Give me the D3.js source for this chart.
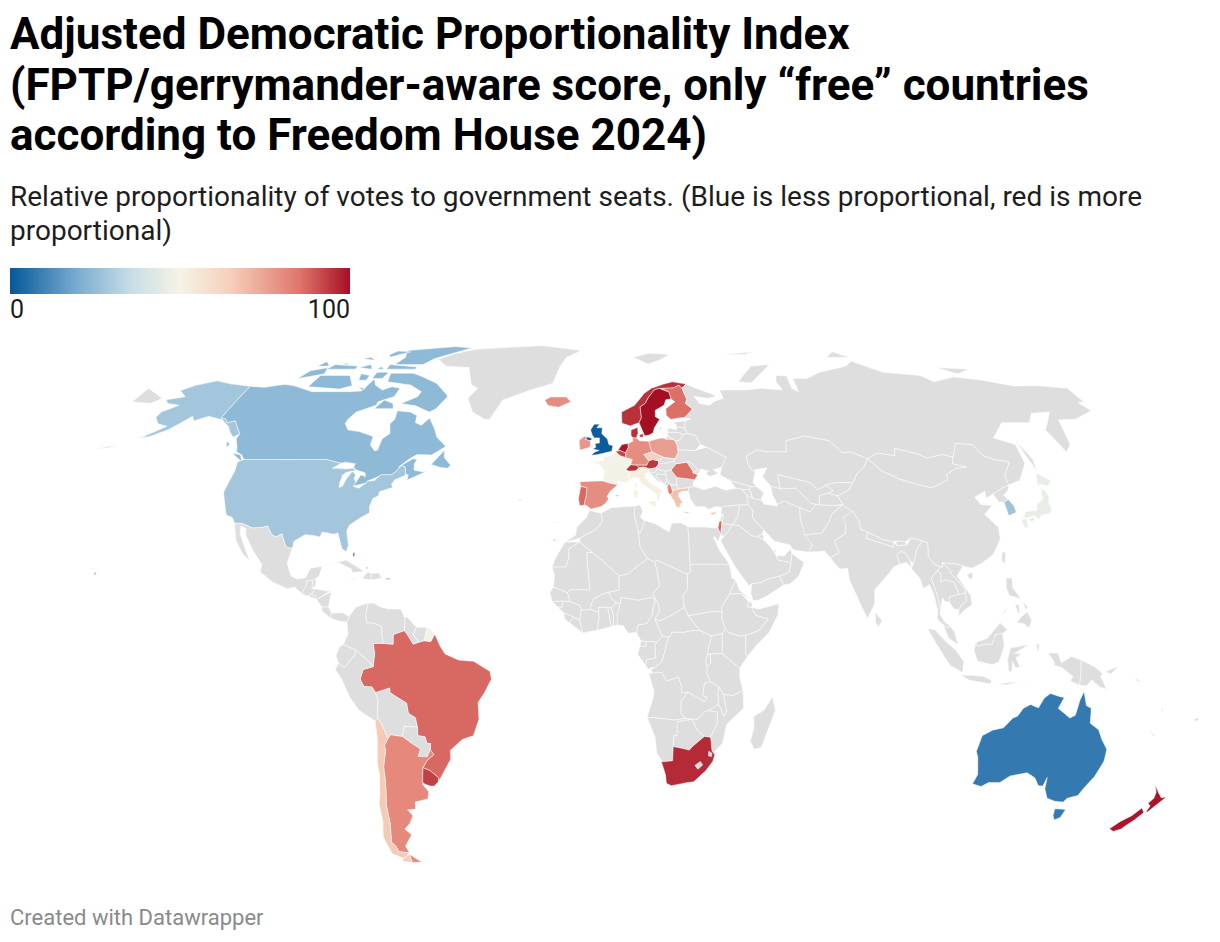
<!DOCTYPE html>
<meta charset="utf-8">
<style>
    body { margin: 0; background: #ffffff; font-family: Roboto, sans-serif; }
    svg { display: block; }
    .country { stroke: #ffffff; stroke-width: .5px; stroke-linejoin: round; }
</style>
<body>
<script src="https://cdnjs.cloudflare.com/ajax/libs/d3/7.8.5/d3.min.js"></script>
<script>

const titleLines = ["Adjusted Democratic Proportionality Index", "(FPTP/gerrymander-aware score, only “free” countries", "according to Freedom House 2024)"];
const subtitleLines = ["Relative proportionality of votes to government seats. (Blue is less proportional, red is more", "proportional)"];
const footer = "Created with Datawrapper";
const legendTicks = [0, 100];

// colour stops of the legend
const scaleStops = [0, 20, 35, 50, 65, 85, 100];
const scaleColors = ["#05589a", "#7badd1", "#c6dce6", "#f5f4e6", "#f6cfba", "#df776c", "#a50f24"];

// scored countries, everything else stays grey
const scoredNames = ["United Kingdom", "Bahamas", "Australia", "Canada", "United States", "South Korea", "Japan", "France", "French Guiana", "Italy", "Ireland", "Spain", "Portugal", "Iceland", "Norway", "Sweden", "Finland", "Denmark", "Netherlands", "Germany", "Poland", "Czechia", "Austria", "Switzerland", "Belgium", "Romania", "Greece", "Albania", "Israel", "Cyprus", "Brazil", "Argentina", "Chile", "Uruguay", "South Africa", "New Zealand", "Luxembourg"];
const scoredValues = [1, 1, 8, 24, 28, 27, 46, 49, 49, 52, 78, 80, 87, 80, 95, 100, 86, 95, 99, 80, 76, 64, 94, 95, 92, 86, 68, 82, 87, 68, 87, 81, 66, 93, 96, 99, 90];

// outlines, lon,lat; a country may have several rings
const northAmerica = [
["Canada", "-141,69.6;-135,69.3;-128,70.2;-124,69.8;-115,68;-108,68;-100,68;-96,68.2;-94,71.9;-92,70;-88,68.5;-85,69.5;-81.5,69;-82,66.5;-87,65;-87,64;-93,62;-94.5,60;-94.7,58.8;-92.5,57;-88,56.5;-82.5,55.2;-82.2,52.9;-80,51.3;-79,51.5;-79,54.5;-77,56;-78.5,58.7;-77.5,60;-78,62.4;-73,62;-70,61;-69.5,59;-67,58.3;-65,60.3;-62,57.5;-60,55;-56,52.5;-58,51.3;-60,50.2;-65,50.3;-67,49.3;-70,47;-66,49.2;-64.5,49;-65,47.8;-64.5,46.2;-61.5,45.7;-60,46;-63.5,44.6;-66,43.6;-66,45;-67,45.2;-67.8,47.1;-69.2,47.4;-70.3,46;-71.5,45;-74.8,45;-76.5,44.2;-79,43.3;-79,42.9;-83,42;-82.5,43;-81.7,45;-80,44.5;-80.5,45.5;-84,46.3;-85,47;-84.8,47.9;-88.5,48.3;-89.6,48;-95.2,49;-123,49;-124.8,50.3;-127,51;-128,52.5;-130,54.5;-130,55.9;-135,59.5;-137.5,59;-139,60;-141,60.3",
 "-61.5,66.5;-64,63;-66,62;-72,63.8;-78,64.5;-73,66.5;-72.5,68;-78,70;-88,71;-89,73.7;-80,73.7;-76,72.8;-68,70.5;-62,67",
 "-105,73;-117,73;-118,69.5;-105,68.8;-101,69.8", "-116,73.5;-125,72;-123,74.5;-117,75.5", "-90,76.5;-78,76.5;-75,78.5;-62,82.5;-70,83.1;-90,81.5;-88,79",
 "-80,75;-92,75;-92,76.5;-80,75.7", "-105,75;-117,75;-115,76.5;-105,76", "-95,79;-88,81;-94,81.3;-96,80", "-90,74;-95,74;-95,72;-91,72", "-97,73;-101,73.5;-100,71.5;-97,71.5",
 "-117,76;-122,76;-120,77.5", "-98,75;-104,75.5;-100,76.5", "-93,75;-96,75;-95,75.8", "-100,78;-106,78.5;-103,79", "-95,69;-98,69.3;-96,68.5", "-110,77;-113,76.6;-110,76.4",
 "-80,63;-87,63;-85,65.5;-81,64.5", "-59.3,47.7;-56,51.5;-55.5,49.5;-52.7,47.5;-53.5,46.7;-56,46.9", "-123.3,48.4;-128.3,50.7;-125,50.2", "-131,53;-132.8,54;-131.5,52.2"],
["United States", "-124.7,48.4;-123,49;-95.2,49;-89.6,48;-92,46.7;-90,46.7;-87.5,46.5;-85,46.7;-84.5,46.5;-84,46;-85,46;-87,45.5;-88,44.5;-87.5,45;-87.8,43;-87.5,41.7;-86.5,42;-86,44;-85,45.7;-84.7,45.8;-83.4,45;-83.5,44;-82.5,43;-83,42;-81,41.5;-79,42.9;-79,43.3;-76.5,43.5;-76,44.2;-74.8,45;-71.5,45;-70.3,46;-69.2,47.4;-67.8,47.1;-67,45.2;-67,44.8;-70,43.7;-70.7,42.5;-70,41.7;-74,40.6;-74,39.5;-75.5,38.9;-75.9,37.1;-76,36.8;-75.5,35.2;-78,33.9;-81,32;-81.4,30.5;-80,26.8;-80.4,25.2;-81.8,26;-82.8,27.8;-84,30;-85.3,29.7;-89,30.3;-89.3,29;-91,29.3;-94,29.6;-97,28;-97.2,26;-99.2,26.5;-101.4,29.8;-103,29;-104.5,29.6;-106.5,31.8;-108.2,31.4;-111,31.3;-114.8,32.5;-117.1,32.5;-118.4,34;-120.6,34.6;-122.4,37.5;-124.3,40.4;-124,46",
 "-141,69.6;-141,60.3;-139,60;-137.5,59;-135,59.5;-130,55.9;-131.5,55;-134,56.5;-136,58;-140,59.8;-146,60.8;-150,59.5;-152,60.8;-154,59;-156.5,57;-161,55.2;-164,54.7;-158,58;-162,58.7;-165,60.5;-165,62;-161,64;-166,64.5;-168,65.6;-162,66.5;-166.5,68.3;-163,69.9;-156.5,71.3;-150,70.4",
 "-172,52.2;-176,51.8;-170,52.8", "-155.9,19.1;-155,19.6;-155.8,20.2", "-157,21;-156,20.8;-156.6,21.1", "-67.2,18;-65.6,18.2;-66,18.5;-67.2,18.5"],
["Mexico", "-117.1,32.5;-114.8,32.5;-111,31.3;-108.2,31.4;-106.5,31.8;-104.5,29.6;-103,29;-101.4,29.8;-99.2,26.5;-97.2,26;-97.8,22.3;-96,19;-94,18.2;-91.5,18.6;-90.5,21;-87,21.5;-87.5,19;-88.3,18.4;-89.2,17.9;-91,17.8;-91,16.5;-92.2,14.6;-94.5,16.2;-96.5,15.7;-101,17.3;-105.5,20;-105.5,22;-109,25.5;-112.5,29.5;-113,31.2;-114.8,31.8;-114.5,30;-110.5,24.5;-109.5,23;-112,24.7;-115,28"],
["Guatemala", "-92.2,14.6;-91,16.5;-91,17.8;-89.2,17.9;-89.2,15.9;-88.2,15.7;-89.2,14.4;-90.5,13.9"],
["Belize", "-89.2,17.9;-88.3,18.4;-88.2,16.5;-89.2,15.9"],
["Honduras", "-89.2,14.4;-88.2,15.7;-83.2,15;-84.5,14.7;-87.5,13"],
["El Salvador", "-90.1,13.8;-89.2,14.4;-87.8,13.9;-87.8,13.2"],
["Nicaragua", "-87.5,13;-83.2,15;-83.7,11;-85.7,11.1"],
["Costa Rica", "-85.7,11.1;-83.7,11;-82.6,9.5;-83,8.3;-85.5,10"],
["Panama", "-83,8.3;-82.6,9.5;-79.5,9.6;-77.3,8.7;-77.9,7.2;-80,7.4;-81.5,7.8"],
["Cuba", "-85,21.9;-80,23.1;-75,20.7;-74.2,20.2;-77.5,19.9;-78,20.8;-82,22.4"],
["Haiti", "-74.4,18.4;-71.7,18;-71.7,19.7;-73,19.9"],
["Dominican Republic", "-71.7,18;-68.4,18.5;-69.5,19.8;-71.7,19.7"],
["Jamaica", "-78.3,18.4;-76.3,18;-77,18.4"],
["Bahamas", "-78.2,24.9;-77.7,25;-77.6,24.2;-78,23.9", "-73.6,21;-73,21;-73.2,21.3"],
["Greenland", "-73,78.3;-68,76;-58,75.5;-54,70;-51,69;-53.5,66;-50,62;-45,60;-43,60;-40,65.5;-32,68;-22,70.5;-20,76;-18,79;-12,81.5;-30,83.5;-45,82.8;-60,82;-68,80.2"]
];

const southAmerica = [
["Brazil", "-51.6,4.1;-50,1;-48.5,-1;-44.5,-2.6;-40,-2.9;-35.2,-5.5;-34.8,-7.5;-37,-11;-39,-13.5;-39,-17.8;-41,-22;-44.5,-23;-48.5,-25.8;-48.6,-28;-52,-32.2;-53.4,-33.7;-53.2,-32.7;-55.6,-30.9;-57.6,-30.2;-56,-28.3;-53.7,-26.9;-54.6,-25.6;-54.3,-24;-55.4,-24;-55.8,-22.3;-58,-22;-57.8,-20;-58.2,-17.4;-60.2,-16.3;-60.5,-13.7;-65.3,-11;-65.3,-9.8;-69.6,-11;-70.6,-9.5;-73,-9.4;-74,-7.5;-73,-5;-70,-4.3;-69.5,-1;-69.9,1.7;-67,1.7;-64,1.5;-64,4;-60.7,5;-59.8,4;-58,1.5;-56.4,2;-54.8,2.4;-52.8,2.2"],
["French Guiana", "-54.8,2.4;-52.8,2.2;-51.6,4.1;-53,5.6;-54,5.8"],
["Suriname", "-57.2,5.9;-58,4;-56.4,2;-54.8,2.4;-54,5.8"],
["Guyana", "-60.7,5;-60.7,8.4;-59.9,8.4;-57.2,5.9;-58,4;-56.4,2;-58,1.5;-59.8,4"],
["Venezuela", "-71.9,12.1;-72.5,9;-72,7;-70,6.9;-67.5,6;-67.4,3.5;-67,1.7;-64,1.5;-64,4;-60.7,5;-60.7,8.4;-62,10.5;-66,10.6;-68.5,11.2;-70,12"],
["Colombia", "-77.3,8.7;-75.5,11;-71.9,12.1;-72.5,9;-72,7;-70,6.9;-67.5,6;-67.4,3.5;-67,1.7;-69.9,1.7;-69.5,-1;-70,-4.3;-72,-2.3;-75,-0.1;-78.8,1.4;-77.5,4;-77.9,7.2"],
["Ecuador", "-78.8,1.4;-75,-0.1;-75.5,-1.5;-78.5,-4.5;-80.3,-3.4;-81,-1.5;-80,0.8"],
["Peru", "-80.3,-3.4;-78.5,-4.5;-75.5,-1.5;-75,-0.1;-72,-2.3;-70,-4.3;-73,-5;-74,-7.5;-73,-9.4;-70.6,-9.5;-69.6,-11;-69,-13;-69.5,-16;-69.5,-17.5;-70.4,-18.3;-75,-15.5;-77.5,-12;-79.5,-7.5;-81.3,-5"],
["Bolivia", "-69.6,-11;-65.3,-9.8;-65.3,-11;-60.5,-13.7;-60.2,-16.3;-58.2,-17.4;-57.8,-20;-58.2,-19.8;-61.7,-19.6;-62.7,-22.2;-66.2,-21.8;-67.2,-22.8;-68.4,-19.5;-69.5,-17.5;-69.5,-16;-69,-13"],
["Paraguay", "-58.2,-19.8;-57.8,-20;-58,-22;-55.8,-22.3;-55.4,-24;-54.3,-24;-54.6,-25.6;-55.8,-27.4;-58.6,-27.3;-57.6,-25.4;-60,-24;-62.7,-22.2;-61.7,-19.6"],
["Argentina", "-67.2,-22.8;-66.2,-21.8;-62.7,-22.2;-60,-24;-57.6,-25.4;-58.6,-27.3;-55.8,-27.4;-54.6,-25.6;-53.7,-26.9;-56,-28.3;-57.6,-30.2;-58.2,-33;-58.5,-34.5;-57,-36.3;-57.7,-38.2;-62,-39;-62.3,-40.8;-65,-41;-63.7,-42.5;-65.3,-44.5;-67.5,-46;-65.8,-47.5;-69,-50.5;-68.4,-52.3;-71.9,-52;-72.3,-50.5;-73.3,-49.5;-71.8,-44.5;-71.5,-40;-70.5,-36;-70,-33;-69.8,-30;-68.4,-26;-68.5,-24.5", "-68.6,-52.7;-68.6,-54.9;-65.2,-54.8"],
["Chile", "-70.4,-18.3;-69.5,-17.5;-68.4,-19.5;-67.2,-22.8;-68.5,-24.5;-68.4,-26;-69.8,-30;-70,-33;-70.5,-36;-71.5,-40;-71.8,-44.5;-73.3,-49.5;-72.3,-50.5;-71.9,-52;-68.4,-52.3;-71,-53.8;-74.5,-52.5;-75.5,-48;-74,-44;-73.7,-39.5;-72.7,-37;-71.5,-32;-71.5,-29;-70.4,-23", "-68.6,-52.7;-70.5,-53.5;-72,-54.5;-68.6,-54.9"],
["Uruguay", "-58.4,-33.9;-58.2,-33;-57.6,-30.2;-55.6,-30.9;-53.2,-32.7;-53.4,-33.7;-54.9,-34.9;-56.2,-34.9;-57.8,-34.4"]
];

const europe = [
["Iceland", "-24,65.5;-22,66.4;-16,66.4;-14,65;-18.5,63.4;-22.5,63.9"],
["United Kingdom", "-5.7,50.1;-3.5,50.3;1.3,51.2;1.7,52.7;0.3,53;-0.2,54.5;-1.6,55.5;-2.2,56;-2,57.6;-4,57.6;-3,58.6;-5,58.6;-6.2,57;-5.5,55.5;-4.8,54.8;-3,54.8;-3,53.4;-4.5,53.3;-4.2,52.3;-5.2,51.8;-3,51.4;-4.5,51", "-7.2,55.1;-5.5,54.6;-6.2,54;-8,54.4"],
["Ireland", "-8,54.4;-6.2,54;-6,53;-6.4,52.2;-9.6,51.5;-10,53.4;-10,54.2;-8.4,55.2;-7.2,55.1"],
["France", "-1.8,43.4;-1.1,46;-2.5,47.3;-4.7,48.4;-1.6,48.7;-1.4,49.7;1.5,50.2;2.5,51.1;4.2,50;6,49.5;8.2,49;7.6,47.6;6,46.3;7,45.9;7,44.2;7.5,43.8;6,43;3.2,43.2;3.2,42.4;0.7,42.8", "8.6,42.4;9.4,43;9.5,41.9;9.2,41.4"],
["Spain", "-9.2,43.2;-1.8,43.4;0.7,42.8;3.2,42.4;0.7,40.7;-0.3,39.4;0.2,38.7;-0.8,37.6;-2.1,36.8;-5.4,36.1;-6.4,36.8;-7.4,37.2;-7.5,38;-7,39.5;-6.9,41.6;-8.2,41.9;-8.9,41.9", "2.4,39.6;3.4,39.9;3.1,39.3", "-17,28.3;-16,28.5;-16.6,28", "-15.8,28;-15.4,28.1;-15.5,27.8", "-14.2,28.2;-13.5,29;-13.8,28.6"],
["Portugal", "-8.9,41.9;-8.2,41.9;-6.9,41.6;-7,39.5;-7.5,38;-7.4,37.2;-9,37;-9.5,38.7", "-28.8,38.4;-27.9,38.6;-28.2,38.3", "-17.2,32.7;-16.7,32.8;-16.8,32.6"],
["Belgium", "2.5,51.1;4.2,51.4;6,50.8;6,49.5;4.2,50"],
["Netherlands", "3.4,51.4;4.8,53;7,53.3;7,52.2;6,50.8;4.2,51.4"],
["Luxembourg", "5.8,49.5;6.5,49.5;6.1,50.1"],
["Germany", "6,50.8;7,52.2;7,53.3;8.7,53.9;8.6,54.9;9.9,54.8;11,54;14.2,53.9;14.7,52;15,51;12.2,50.3;13.8,48.7;13,47.5;9.6,47.5;7.6,47.6;8.2,49;6,49.5"],
["Denmark", "8.1,55.5;8.6,54.9;9.9,54.8;10.6,56;10.6,57.7;8.2,57", "11,55.6;12.5,56;12.3,55;11.2,55"],
["Switzerland", "6,46.3;7.6,47.6;9.6,47.5;10.4,46.9;9.3,46;7,45.9"],
["Austria", "9.6,47.5;13,47.5;13.8,48.7;15,49;17,48.7;17,47.8;16,46.8;13.7,46.5;12.1,47;10.4,46.9"],
["Italy", "7,44.2;7,45.9;9.3,46;10.4,46.9;12.1,47;13.7,46.5;13.6,45.7;12.3,45.3;12.4,44.2;14,42.6;16,41.9;18.5,40.2;16.9,40.4;16.6,38.9;15.7,38;15.8,40;13.8,41.2;11,42.5;10.2,43.9;8.8,44.4;7.5,43.8", "12.5,38;15.6,38.2;15.1,36.7", "8.2,41;9.7,40.9;9.6,39.2;8.5,39"],
["Poland", "14.2,53.9;18.6,54.8;23,54.4;23.9,53;24,50.8;22.7,49.2;19,49.5;15,51;14.7,52"],
["Czechia", "12.2,50.3;15,51;18.8,49.6;17,48.7;15,49;13.8,48.7"],
["Slovakia", "18.8,49.6;19,49.5;22.5,49.1;22.1,48.4;18.8,48;17,47.8;17,48.7"],
["Hungary", "17,47.8;18.8,48;22.1,48.4;22.9,47.9;21,46.2;18.8,45.9;16.5,46.5;16,46.8"],
["Slovenia", "13.7,46.5;16,46.8;16.5,46.5;15.5,45.6;13.6,45.5"],
["Croatia", "13.6,45.5;15.5,45.6;16.5,46.5;18.8,45.9;19.2,45;16,45.2;15.8,44.4;18.5,42.5;16,43.5;14.5,45"],
["Bosnia", "16,45.2;19.2,45;19.3,43.6;18.5,42.5;15.8,44.4"],
["Serbia", "18.8,45.9;21,46.2;22.7,44.3;22.4,42.4;21,42.3;20,42.8;19.3,43.6;19.2,45"],
["Montenegro", "18.5,42.5;19.3,43.6;20,42.8;19.3,41.9"],
["Albania", "19.3,41.9;20,42.8;20.6,41.8;21,40.5;20,39.7;19.4,40.6"],
["North Macedonia", "20.6,41.8;21,42.3;22.4,42.4;23,41.3;21,40.9"],
["Greece", "20,39.7;21,40.5;21,40.9;23,41.3;26.3,41.7;26,40.8;24,40.7;23,40.3;22.7,39.5;24,37.7;23,37.5;23,36.5;21.7,36.8;21.2,38.2", "23.5,35.5;26.3,35.3;24.8,35"],
["Bulgaria", "22.4,42.4;22.7,44.3;28.5,43.7;27.7,42.5;28,42;26.3,41.7;23,41.3"],
["Romania", "21,46.2;22.9,47.9;26.6,48.3;28.2,46;28.2,45.5;29.7,45;28.5,43.7;22.7,44.3"],
["Moldova", "26.6,48.3;27.5,48.5;30,46.4;28.2,45.5;28.2,46"],
["Ukraine", "22.1,48.4;22.7,49.2;24,50.8;24,51.6;30,51.4;34,52.3;40,49.6;38.2,47;35,46.3;36.5,45.3;33.5,44.5;32.5,45.4;33.5,46;30.8,46.5;29.7,45;28.2,45.5;30,46.4;27.5,48.5;26.6,48.3;22.9,47.9"],
["Belarus", "23.9,53;24,51.6;30,51.4;32,53;30.8,55.5;28,56;26.6,55.7;25,54.2;23.5,54"],
["Lithuania", "21,55.3;21.1,56.4;25,56.3;26.6,55.7;25,54.2;23.5,54;22.8,54.4"],
["Latvia", "21.1,56.4;21.6,57.6;24.3,57;24.4,57.9;27.4,57.5;28,56;26.6,55.7;25,56.3"],
["Estonia", "23.5,59.2;28,59.5;27.4,57.5;24.4,57.9;24.5,58.4"],
["Finland", "22.9,59.9;25.6,60.3;28,60.5;31.5,62.9;29.2,64.5;30,65.7;29,69;28.9,69.1;28,70;25.7,69.2;21,69;23.6,67.9;24,65.8;25.3,65;21.5,63;21.4,61"],
["Norway", "5,59;5,62;10,64;14,67.5;17,69;22,70.3;25.7,71;31,70.3;30,69.7;28.9,69.1;28,70;25.7,69.2;21,69;20,69;18,68.5;15.5,66.3;14,64.5;12,63.5;12.2,60.5;11.2,59;8,58.1;5.6,58.7"],
["Sweden", "11.2,59;12.2,60.5;12,63.5;14,64.5;15.5,66.3;18,68.5;20,69;23.6,67.9;24,65.8;22,65.6;21,64;17.5,62.5;17.3,60.7;18.8,60;16.5,57.5;16,56.2;14.3,55.5;12.9,55.4;11.9,57.5", "18.2,57;19,57.9;18.8,57.3"],
["Svalbard", "11,79;17,76.7;22,78;27,80;18,80.5"],
["Russia", "31,70.3;33,69.5;41,67;41,66.5;38,66;33,66.6;34.5,64.5;38,64;40,65;44,66;43.5,68.5;54,68.5;60,69;68,68.5;67,71;68.5,73;72.5,72.8;72,69;74,68;74.5,72;80,72;87,74;100,76;104,77.7;113,74;127,73;130,71;140,72.5;150,71.5;160,69.7;170,69.8;180,69;180,65;177.5,64.7;179,62.4;170,60;163.5,59.8;162,57;160,53;156.7,51;155.6,57;163,62;156,61.7;152,59;142,59;135,54.8;141,53;140,48;135,43.5;130.7,42.3;131,44.8;135,48.4;130.7,48.9;127.5,50;126,53;120.5,53.3;117,49.6;114,50.3;108,49.4;106,50.3;98.5,52;97.5,50;92,50.7;87.8,49.2;83,51;80,50.8;77,54;71,55;69,55.3;62,54;61,51;55,51;51,51.5;47,50;47,48;48,46;49,46.3;47.5,43;48.5,41.9;46.5,41.9;40,43.5;37,45;38,47;40,49.6;34,52.3;32,53;30.8,55.5;28,56;27.4,57.5;28,59.5;30,60;28,60.5;31.5,62.9;29.2,64.5;30,65.7;29,69;30,69.7",
 "-180,69;-175,67.5;-170,66;-172.5,64.5;-180,65", "142,54.3;143.5,49;142.5,46;142,50", "52,71;57,70.7;68,76.5;60,76;55,73", "95,79;105,79;100,81", "137,75.5;150,75;143,73.5", "50,80;65,81;60,80", "20,54.4;22.8,54.4;21,55.3"]
];

const asia = [
["Georgia", "40,43.5;46.5,41.9;46,41.2;43.4,41.2;41.6,41.5"],
["Armenia", "43.4,41.2;46,41.2;46.5,38.9;44.8,39.7"],
["Azerbaijan", "46,41.2;46.5,41.9;48.5,41.9;50.3,40.3;49,38.4;46.5,38.9"],
["Turkey", "26,40.8;26.3,41.7;28,42;31,41.1;35,42;38,41;41.6,41.5;43.4,41.2;44.8,39.7;44.8,37.2;42,37.2;36.7,36.8;36.1,36.6;34.5,36.8;32,36.1;30.6,36.8;28,36.7;26.4,38.7"],
["Cyprus", "32.3,35;34.5,35.6;33.8,34.9;32.9,34.6"],
["Iraq", "42,37.2;44.8,37.2;46,35.7;45.5,34;48.5,30.8;48,29.9;46.5,29.1;44.7,29.2;41,31.9;39,32.1;41,34.4"],
["Syria", "36.1,36.6;36.7,36.8;42,37.2;41,34.4;39,32.1;36.8,32.3;35.8,33;36.5,34.5;35.8,35"],
["Lebanon", "35.1,33.1;35.8,33;36.5,34.5;35.9,34.5"],
["Israel", "34.3,31.3;35,33.1;35.8,33;35.5,31.5;35,29.5"],
["Jordan", "35.5,31.5;35.8,33;36.8,32.3;39,32.1;37.5,30.5;36,29.2;35,29.5"],
["Iran", "44.8,39.7;46.5,38.9;49,38.4;50,37.4;54,36.9;54,37.4;56.5,38.2;61,36.5;60.5,33.5;61,31.4;63,27;61.6,25.1;57,25.7;56,27;51.5,27.9;48.5,30.8;45.5,34;46,35.7;44.8,37.2"],
["Saudi Arabia", "36,29.2;37.5,30.5;39,32.1;41,31.9;44.7,29.2;46.5,29.1;48,28.4;50,26.5;51.3,24.5;52,23;55,22.7;55.7,22;55,20;52,19;48.7,18.3;46,17.3;43.3,17;42.5,16.5;39,21;36.5,25;34.8,28.1"],
["Kuwait", "46.5,29.1;48,29.9;48.3,28.6;48,28.4"],
["Qatar", "50.8,24.7;51.2,26.1;51.6,25.1"],
["UAE", "51.6,24.2;54,24.2;56.2,26;56.4,24.8;55.7,22;55,22.7;52,23"],
["Oman", "56.4,24.8;59.8,22.5;57.8,19;55,17;53,16.7;52,19;55,20;55.7,22"],
["Yemen", "43.3,17;46,17.3;48.7,18.3;52,19;53,16.7;48,14;45,12.8;43.5,12.7;43,14.5"],
["Kazakhstan", "47,50;51,51.5;55,51;61,51;62,54;69,55.3;71,55;77,54;80,50.8;83,51;87.8,49.2;85.5,47;82.5,45.3;80,42.9;74.5,43;71,42.3;68,41;66,43;61,44;56,45;56,41.3;53,42;51,44.5;53,46.8;49,46.3;48,46;47,48"],
["Uzbekistan", "56,45;61,44;66,43;68,41;71,42.3;73,40.8;71,40.2;68,39.5;67.5,37.2;65,37.5;61,41.5;56,41.3"],
["Turkmenistan", "53,42;56,41.3;61,41.5;65,37.5;66.5,37.4;64,35.4;61,36.5;56.5,38.2;54,37.4;53,40"],
["Kyrgyzstan", "71,42.3;74.5,43;80,42.9;78,41;74,39.5;71,40.2;73,40.8"],
["Tajikistan", "68,39.5;71,40.2;74,39.5;75,37.3;71.5,37;67.5,37.2"],
["Afghanistan", "61,36.5;64,35.4;66.5,37.4;67.5,37.2;71.5,37;74.8,37.2;71,35;69.5,33;66.5,30;61,29.5;61,31.4;60.5,33.5"],
["Pakistan", "61,29.5;66.5,30;69.5,33;71,35;74.8,37.2;77.5,35.5;74.5,32.5;74,30;70,28;71,25;68,23.7;66.5,25.4;61.6,25.1;63,27"],
["India", "74,34;77.5,35.5;79,33;78.8,31;81,30.2;80,28.7;88,26.4;88.1,27.8;89,26.8;92,26.9;94,28.8;97.3,28;95,26;94,23.8;93,22;92,23.5;91.2,25;89.9,25.3;88.5,24.5;88.9,22;87,21.4;85,19.5;80.3,15.5;80,12;77.5,8.1;76,11;73,18;72.8,21;70.5,20.8;69,22.3;68,23.7;71,25;70,28;74,30;74.5,32.5"],
["Nepal", "80,28.7;81,30.2;85,28.4;88.1,27.8;88,26.4"],
["Bhutan", "89,26.8;89,28;92,27.8;92,26.9"],
["Bangladesh", "88.9,22;88.5,24.5;89.9,25.3;91.2,25;92,23.5;92.5,21;91,22.5"],
["Sri Lanka", "80,9.7;81.8,7.5;80.7,6;79.8,7"],
["China", "74,39.5;78,41;80,42.9;82.5,45.3;85.5,47;87.8,49.2;91,46;95.5,44;101,42.5;105,41.6;111.5,43.6;111.8,45;116,46.7;119.8,47;115.6,47.9;117,49.6;120.5,53.3;126,53;127.5,50;130.7,48.9;135,48.4;131,44.8;130.7,42.3;128,41.5;124.3,40;121.5,39;122,40.7;118,39.2;119,37.3;122.5,37;119,34.8;122,31.5;121.5,28.5;118,24.5;114,22.3;110.5,21;108,21.6;106.7,22;102,22.4;101.7,21.2;99.5,22;98,24;98.7,27.5;97.3,28;94,28.8;92,27.8;89,28;88.1,27.8;85,28.4;81,30.2;78.8,31;79,33;77.5,35.5;74.8,37.2;75,37.3", "108.7,19.3;110.5,20;110.5,18.8;109.5,18.2"],
["Taiwan", "120.2,23;121,25.2;122,25;120.9,22"],
["Mongolia", "87.8,49.2;92,50.7;97.5,50;98.5,52;106,50.3;108,49.4;114,50.3;117,49.6;115.6,47.9;119.8,47;116,46.7;111.8,45;111.5,43.6;105,41.6;101,42.5;95.5,44;91,46"],
["North Korea", "124.3,40;128,41.5;130.7,42.3;129.7,41;127.5,39.7;128.4,38.6;126.7,37.8;125,38"],
["South Korea", "126.7,37.8;128.4,38.6;129.4,37;129.3,35.3;126.5,34.4;126.6,36.7"],
["Japan", "130.9,34;132.5,35.5;136,35.8;137,37.4;139.8,38.8;140,40.5;141.3,41.4;142,39.5;141,38;140.9,36;139.8,35;137,34.6;135.5,33.5;134.5,34.5;132,33.9", "130,33.5;131.7,33.6;131.4,31.5;130.2,31.3", "132.4,33.5;134.5,34.2;134.2,33.4;132.9,32.8", "140,42;141.7,45.5;145.3,43.5;143.3,42;141,42.5"],
["Myanmar", "92.2,21;93,22;94,23.8;95,26;97.3,28;98.7,27.5;98,24;99.5,22;101.2,21.4;100,20.3;97.8,18.5;98.5,16;99.5,11.5;98.6,10;98,14;97,16.8;95,15.8;94.3,18.5"],
["Thailand", "97.8,18.5;100,20.3;101,19.5;100.5,17.5;102,18;104.5,17.5;105.5,14.3;102.5,13.6;102.4,12.2;100.9,12.6;100.5,13.5;99.2,9.3;100.4,7.3;102,6.2;101,5.7;100,6.5;98.3,8;98.6,10;99.5,11.5;98.5,16"],
["Laos", "100,20.3;101.2,21.4;101.7,21.2;102,22.4;104,20.5;104,19.7;106,17.5;107.6,15.5;107.5,14.7;105.5,14.3;104.5,17.5;102,18;100.5,17.5;101,19.5"],
["Vietnam", "102,22.4;106.7,22;108,21.6;105.7,19;109,14;109,11.6;106.7,10.3;104.8,8.7;105,10.4;106,11.7;107.5,12.5;107.5,14.7;107.6,15.5;106,17.5;104,19.7;104,20.5"],
["Cambodia", "102.5,13.6;105.5,14.3;107.5,14.7;107.5,12.5;106,11.7;105,10.4;103.5,10.6;102.4,12.2"],
["Malaysia", "100,6.5;101,5.7;102,6.2;103.4,4.5;104.2,1.4;101.5,3;100.4,5.5", "109.6,2;111.3,2.5;113,3;115,5;117,7;119,5.2;117.6,4.2;115.5,4;114.5,1.5;112.5,1.5;110,1"],
["Indonesia", "95.3,5.5;97.5,5.2;100.5,2.3;103.5,0;106,-3;105.7,-5.8;102,-4;100,-1.5;97.5,2", "109.6,2;109,0;110,-2.8;114.5,-3.8;116.5,-3;118,1;117.6,4.2;115.5,4;114.5,1.5;112.5,1.5;110,1", "105.2,-6.5;108.5,-6.5;112,-6.8;114.5,-7.8;114.3,-8.7;108,-7.8", "119.5,-5.5;119,-2.5;119.8,0.5;124.5,1.3;125,1.2;121,-0.9;123.3,-0.9;121.5,-2;122.8,-4.5;121.5,-4.5;120.5,-3;120.4,-5.6", "123.5,-10.3;127,-8.4;125,-9.5", "116,-8.9;119,-8.4;122.8,-8.2;119.5,-8.9", "127.5,1.5;128.5,1.5;128,-0.7", "131,-0.8;134,-0.8;135,-3.3;138,-1.7;141,-2.6;141,-9.1;138,-8;138.7,-6.8;135,-4.4;133,-4;132.8,-2.8"],
["Papua New Guinea", "141,-2.6;145,-4.3;147.5,-6;147,-6.8;149,-9.9;150.8,-10.5;147,-9.5;144.5,-7.7;143,-9.2;141,-9.1", "148.3,-5.6;152,-4.2;150,-6.2"],
["Philippines", "120.5,18.5;122.2,18.5;122,16;124,13;122,13.7;120.6,14;120,16", "122,7;123.5,8.6;125.5,9.8;126.5,7.5;125.5,5.7;124,6.8", "124.5,12.5;125.7,11;125,10.2", "117.3,8.4;119.6,11.3;119,10", "122,11.8;123.2,11.5;123,9.2;122.5,9.8"]
];

const oceania = [
["Australia", "142.5,-10.7;143.8,-14.3;145.4,-15;146,-18.8;149,-20.5;150.8,-23;153.2,-25.5;153.6,-28.5;152.5,-32.5;150.7,-35.5;150,-37.3;147,-38;146.3,-39;143.5,-38.8;140.5,-38;138.5,-35.6;137.8,-32.7;137.5,-34.9;136,-34.8;134,-32.8;131,-31.5;126,-32.3;123.5,-34;120,-34;118,-35;115,-34.3;115.7,-32;114.2,-27.5;113.3,-26;114,-22;116.8,-20.6;120,-20;122.3,-17.5;123.6,-17;125,-15;127,-14;129.5,-14.9;130.8,-12.4;132.5,-11.2;135.5,-12;136.8,-12.2;135.5,-15;139.5,-17.5;141,-16.8;141.6,-13", "144.7,-40.7;148.3,-40.9;148,-43;146.5,-43.6;145.3,-42.5"],
["New Zealand", "172.7,-34.5;174.5,-36;175.5,-36.8;177,-37.9;178.5,-37.7;177,-39.5;175.3,-41.6;174.8,-41.3;175,-40;173.8,-39.3;174.7,-38;174.4,-36.5", "172.7,-40.5;174.3,-41.7;172.8,-43.6;171,-45.3;170.5,-46;168.4,-46.6;166.5,-45.9;168.5,-44;171,-42.5"],
["Fiji", "177.3,-17.5;178.6,-17.6;178.2,-18.3;177.3,-18.1"],
["New Caledonia", "164,-20.2;167,-22.3;166,-22"],
["Solomon Islands", "157,-7;159.5,-8.3;158,-8"],
["Vanuatu", "166.6,-15;167.2,-15.2;167,-16"]
];

const africa = [
["Madagascar", "49.3,-12;50.4,-15.5;47,-25;45,-25.5;43.5,-23.5;44.3,-20;44,-17;47,-15.5"],
["Morocco", "-5.9,35.8;-2.2,35.1;-1.7,33;-3.6,31;-8.7,28.7;-13.2,27.7;-10,29.5;-9.8,31.5;-6.8,34"],
["Western Sahara", "-13.2,27.7;-8.7,27.7;-12,26;-12,23.4;-13,21.3;-17,21.3;-16,23.7;-14.5,26"],
["Algeria", "-2.2,35.1;1,36.5;8.6,36.9;8.3,34.5;9.5,30.2;9.9,26.5;12,23.5;6,19.5;3.3,19;1.2,20.8;-4.8,25;-8.7,27.7;-8.7,28.7;-3.6,31;-1.7,33"],
["Tunisia", "8.6,36.9;10.2,37.2;11,35.5;10.2,34;11.5,33.2;10.2,30.2;9.5,30.2;8.3,34.5"],
["Libya", "11.5,33.2;15,32.3;19,30.3;20,32.5;23,32.6;25,31.6;25,20;24,19.5;15,23;14.2,22.6;12,23.5;9.9,26.5;9.5,30.2;10.2,30.2"],
["Egypt", "25,31.6;31,31.5;34.3,31.3;35,29.5;34,27.8;33.2,29;32.7,29;34,26;37,22;25,22"],
["Sudan", "25,22;37,22;37.5,18.5;38.6,18;36.5,14.3;34,11;34.2,9.7;32,10;24,8.8;22.8,11;22.5,14;24,15.7;24,19.5;25,20"],
["South Sudan", "24,8.8;32,10;34.2,9.7;34,8;35,5.4;34,4.2;30.8,3.6;27.4,5"],
["Eritrea", "36.5,14.3;38.6,18;39.5,15.5;43,12.6;40,14.5;37,14.4"],
["Djibouti", "42,12.6;43.3,12;43,11;41.8,11"],
["Ethiopia", "34.2,9.7;34,11;36.5,14.3;37,14.4;40,14.5;42,12.6;41.8,11;43,11;44,9;47.9,8;45,5;42,4;39.5,3.5;36,4.5;35,5.4;34,8"],
["Somalia", "43,11;45,10.5;51.2,11.9;50.8,9;48,4.5;44,1;41.5,-1.7;41,-0.9;41,3.9;42,4;45,5;47.9,8;44,9"],
["Kenya", "34,4.2;35,5.4;36,4.5;39.5,3.5;41,3.9;41,-0.9;41.5,-1.7;39.3,-4.7;34,-1;34,0.4"],
["Uganda", "30.8,3.6;34,4.2;34,0.4;34,-1;30.5,-1;29.6,-1.4;30,1"],
["Tanzania", "30.5,-1;34,-1;39.3,-4.7;39.3,-7;40.4,-10.4;37.5,-11.7;34.7,-11.5;33,-9.4;30.6,-8.2;29.5,-6;29.5,-4.4;30.5,-3.5"],
["Rwanda", "29.6,-1.4;30.5,-1;30.5,-3.5;29.5,-4.4;29,-2.7"],
["DR Congo", "12.2,-6;13.2,-5.8;12.8,-5;14,-4.5;16,-3;17,0;18,3.4;18.6,3.5;19,4.6;22.8,4.6;25,5;27.4,5;30.8,3.6;30,1;29.6,-1.4;29,-2.7;29.5,-4.4;29.5,-6;30.6,-8.2;28.9,-8.5;28.4,-11.8;29.8,-12.2;29,-13.3;26,-11.8;23.9,-10.9;22,-11;22,-9.5;21,-7;17.5,-8;16,-5.8"],
["Angola", "12.2,-6;16,-5.8;17.5,-8;21,-7;22,-9.5;22,-11;23.9,-10.9;22,-13;22,-16.2;23.4,-17.6;20,-18;13.9,-17.4;11.8,-17.3;13.5,-12.5;13.8,-10.7"],
["Zambia", "22,-13;23.9,-10.9;26,-11.8;29,-13.3;29.8,-12.2;28.4,-11.8;28.9,-8.5;30.6,-8.2;33,-9.4;33,-12;33.2,-14;30.2,-15.6;28.9,-16;27,-17.9;25.3,-17.8;23.4,-17.6;22,-16.2"],
["Malawi", "33,-9.4;34.7,-11.5;35,-13;35.8,-16;35,-17;33.2,-14;33,-12"],
["Mozambique", "34.7,-11.5;37.5,-11.7;40.4,-10.4;40.8,-15;36,-19;35,-24;32.9,-26;32.9,-26.8;32,-26;31.3,-22.4;33,-19;33,-16;30.2,-15.6;33.2,-14;35,-17;35.8,-16;35,-13"],
["Zimbabwe", "25.3,-17.8;27,-17.9;28.9,-16;30.2,-15.6;33,-16;33,-19;31.3,-22.4;29.4,-22.2;27,-20.5"],
["Botswana", "20,-18.4;21,-18.4;25.3,-17.8;27,-20.5;29.4,-22.2;26,-24.7;25,-25.7;23,-25.3;20,-24.8;20,-22;21,-22"],
["Namibia", "11.8,-17.3;13.9,-17.4;20,-18;23.4,-17.6;25.3,-17.8;21,-18.4;21,-22;20,-22;20,-28.4;17,-28.7;15,-26.5;14.4,-22.5"],
["South Africa", "16.5,-28.6;17,-28.7;20,-28.4;20,-24.8;23,-25.3;25,-25.7;26,-24.7;29.4,-22.2;31.3,-22.4;32,-26;32.9,-26.8;32.5,-28.5;30.5,-31;27,-33.8;25,-34;20,-34.8;18.4,-34.2;18,-32"],
["Lesotho", "27,-29.6;28.6,-28.6;29.4,-29.5;28,-30.6"],
["Eswatini", "31,-26;32,-26.5;32,-27.3;31,-27.2"],
["Congo", "11.2,-4;12,-5;13,-4.5;14,-4.5;16,-3;17,0;18,3.4;16.2,3.5;14.5,2;14,1.4;14,0;14.2,-2;11.5,-2.5"],
["Gabon", "9.5,1;11.3,1;11.3,2.2;13.3,2.2;14.5,2;14,1.4;14,0;14.2,-2;11.5,-2.5;11.2,-4;8.8,-1"],
["Equatorial Guinea", "9.5,1;11.3,1;11.3,2.2;9.8,2.3"],
["Cameroon", "8.5,4.6;9.8,2.3;11.3,2.2;13.3,2.2;14.5,2;16.2,3.5;15,6;14,8;15.5,10;15,12;14.2,13;13.5,11;13.2,9;11.5,6.8;9,6.5"],
["Central African Republic", "15,6;16.2,3.5;18,3.4;18.6,3.5;19,4.6;22.8,4.6;25,5;27.4,5;24,8.8;22.8,11;19,9;15.5,7.5;14,8"],
["Chad", "14.2,22.6;15,23;24,19.5;24,15.7;22.5,14;22.8,11;19,9;15.5,7.5;14,8;15.5,10;15,12;14.2,13;13.5,14.5;15.5,16.5;15,20"],
["Niger", "12,23.5;14.2,22.6;15,20;15.5,16.5;13.5,14.5;14.2,13;13,13.5;9,12.8;4,13.5;3.6,11.8;2.4,12.2;1,13.3;0.2,14.9;3.3,15.4;3.3,19;6,19.5"],
["Nigeria", "2.7,6.4;2.7,9;3.6,11.8;4,13.5;9,12.8;13,13.5;14.2,13;13.5,11;13.2,9;11.5,6.8;9,6.5;8.5,4.6;6,4.3;4.5,6.3"],
["Benin", "1.6,6.2;2.7,6.4;2.7,9;3.6,11.8;2.4,12.2;0.9,10.9;1.6,9"],
["Togo", "0.9,6;1.6,6.2;1.6,9;0.9,10.9;-0.1,11;0.5,8"],
["Ghana", "-3.1,5.1;0.9,6;0.5,8;-0.1,11;-2.8,11;-2.8,9.7;-2.7,8;-3.1,6"],
["Burkina Faso", "-5.5,10.4;-2.8,9.7;-2.8,11;-0.1,11;0.9,10.9;2.4,12.2;1,13.3;0.2,14.9;-2,14.3;-4.5,13"],
["Ivory Coast", "-7.5,4.4;-3.1,5.1;-3.1,6;-2.7,8;-2.8,9.7;-5.5,10.4;-8,10.3;-8.5,7.6"],
["Mali", "-4.8,25;1.2,20.8;3.3,19;3.3,15.4;0.2,14.9;-2,14.3;-4.5,13;-5.5,10.4;-8,10.3;-8.5,11.5;-11.4,12.4;-12.2,14.7;-11.5,15.5;-5.5,15.5;-6.6,25"],
["Mauritania", "-17,21.3;-13,21.3;-12,23.4;-12,26;-8.7,27.7;-4.8,25;-6.6,25;-5.5,15.5;-11.5,15.5;-12.2,14.7;-16.5,16.2;-16.2,19"],
["Senegal", "-17.5,14.7;-16.5,16.2;-12.2,14.7;-11.4,12.4;-13.7,12.6;-16.7,12.4"],
["Guinea-Bissau", "-16.7,12.4;-13.7,12.6;-13.7,11;-15,11"],
["Guinea", "-13.7,12.6;-11.4,12.4;-8.5,11.5;-8,10.3;-8.5,7.6;-10.3,8.5;-13.2,9.5;-15,11;-13.7,11"],
["Sierra Leone", "-13.2,9.5;-10.3,8.5;-11.5,7;-13,8"],
["Liberia", "-11.5,7;-10.3,8.5;-8.5,7.6;-7.5,4.4"]
];

const noData = "#dedede";

let width = 1220, height = 942;

let svg = d3.select("body").append("svg")
    .attr("width", width)
    .attr("height", height);

// headline block
svg.selectAll(".title").data(titleLines).enter().append("text")
    .attr("class", "title")
    .attr("x", 10)
    .attr("y", (d, i) => 49 + i * 50.5)
    .style("font-size", "44px")
    .style("font-weight", 700)
    .style("fill", "#000000")
    .text(d => d);

svg.selectAll(".subtitle").data(subtitleLines).enter().append("text")
    .attr("class", "subtitle")
    .attr("x", 10)
    .attr("y", (d, i) => 206 + i * 34)
    .style("font-size", "28px")
    .style("fill", "#1d1d1d")
    .text(d => d);

svg.append("text")
    .attr("x", 10)
    .attr("y", 925)
    .style("font-size", "22px")
    .style("fill", "#8a8a8a")
    .text(footer);

let color = d3.scaleLinear().domain(scaleStops).range(scaleColors);

// legend
let legendX = d3.scaleLinear().domain(d3.extent(legendTicks)).range([10, 350]);

let gradient = svg.append("defs").append("linearGradient").attr("id", "legend-gradient");
gradient.selectAll("stop").data(scaleStops).enter().append("stop")
    .attr("offset", d => d + "%")
    .attr("stop-color", d => color(d));

svg.append("rect")
    .attr("x", legendX(0))
    .attr("y", 268)
    .attr("width", legendX(100) - legendX(0))
    .attr("height", 26)
    .style("fill", "url(#legend-gradient)");

svg.selectAll(".legend-tick").data(legendTicks).enter().append("text")
    .attr("class", "legend-tick")
    .attr("x", d => legendX(d))
    .attr("y", 318)
    .attr("text-anchor", d => d === 0 ? "start" : "end")
    .style("font-size", "25px")
    .style("fill", "#1d1d1d")
    .text(d => d);

// map
let projection = d3.geoNaturalEarth1()
    .scale(221)
    .translate([608, 650]);

let path = d3.geoPath(projection);

// straight lon/lat edges, otherwise the 49th parallel bows
function parseRing(text) {
    let pts = text.split(";").map(p => p.split(",").map(Number));
    let out = [];
    pts.forEach(function (p, i) {
        let q = pts[(i + 1) % pts.length];
        let n = Math.ceil(Math.max(Math.abs(q[0] - p[0]), Math.abs(q[1] - p[1])) / 2);
        for (let k = 0; k < n; k++) {
            out.push([p[0] + (q[0] - p[0]) * k / n, p[1] + (q[1] - p[1]) * k / n]);
        }
    });
    out.push(out[0]);
    return out;
}

// d3 wants small rings, flip the ones that came out as "everything but"
function polygon(text) {
    let ring = parseRing(text);
    let geom = {type: "Polygon", coordinates: [ring]};
    if (d3.geoArea(geom) > 2 * Math.PI) geom.coordinates = [ring.slice().reverse()];
    return geom.coordinates;
}

let countries = [].concat(northAmerica, southAmerica, europe, asia, oceania, africa).map(function (row) {
    return {
        type: "Feature",
        properties: {name: row[0]},
        geometry: {type: "MultiPolygon", coordinates: row.slice(1).map(polygon)}
    };
});

let scores = new Map(scoredNames.map((d, i) => [d, scoredValues[i]]));

svg.append("g").selectAll("path").data(countries).enter().append("path")
    .attr("class", "country")
    .attr("d", path)
    .style("fill", function (d) {
        let v = scores.get(d.properties.name);
        return v === undefined ? noData : color(v);
    });

</script>
